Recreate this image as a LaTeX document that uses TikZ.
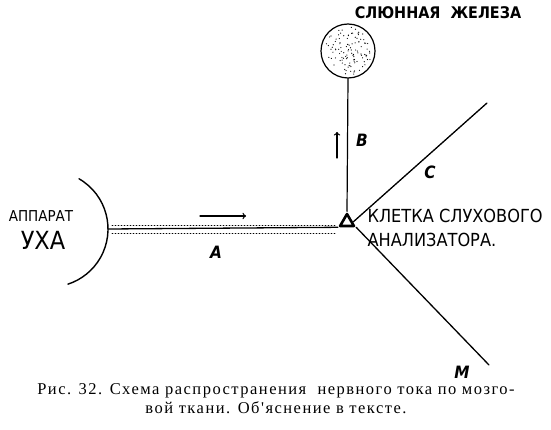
\documentclass[tikz,border=0pt]{standalone}
\usepackage{fontspec}
\setmainfont{Liberation Serif}
\newfontfamily\lettering{DejaVu Sans Condensed}
\newfontfamily\captionfont[LetterSpace=9]{Liberation Serif}
\usetikzlibrary{shapes.geometric}
\begin{document}
\begin{tikzpicture}[x=1pt, y=1pt, line join=round, line cap=round, >=to,
	declare function={r=27; R=58;}]
	\useasboundingbox (0,0) rectangle (551,429);
	\path
	(50,200) coordinate (O)
	(108,200) coordinate (E)
	(487,326) coordinate (C)
	(489,64) coordinate (M)
	;
	\node[draw, line width=1.2pt, circle, minimum size=2*r, inner sep=0] (gland) at (348,378) {};
	\node[draw, line width=2.6pt, regular polygon, regular polygon sides=3, minimum size=16, inner sep=0] (cell) at (347,207) {};
	% ear
	\draw[line width=1.4pt] (O) ++(60:R) arc (60:-72:R);
	% fibres
	\draw[line width=1.3pt] (E)--(cell.corner 2);
	\draw[line width=0.6pt, dash pattern=on 1pt off 2pt] (112,204)--(336,204) (112,196)--(336,196);
	\draw[line width=1.2pt] (cell.north)--(gland.south);
	\draw[line width=1.3pt] (cell.corner 3)--(M);
	\draw[line width=1.3pt] (cell.east)--(C);
	% stippling of the gland
	\pgfmathsetseed{7}
	\foreach \i in {1,...,110}{
	\pgfmathsetmacro\rr{24*sqrt(rnd)}
	\pgfmathsetmacro\tt{360*rnd}
	\fill (gland.center) ++(\tt:\rr) circle (0.6);
}
	% arrows
	\draw[->, line width=1.3pt] (200,213)--(246,213);
	\draw[->, line width=1.3pt] (337,271)--(337,297);
	% letters
	\foreach \p/\t in {{216,177}/A, {362,289}/B, {430,257}/C, {462,57}/M}{
	\node[font=\lettering\fontsize{17}{17}\selectfont\bfseries\itshape] at (\p) {\t};
}
	\node[font=\lettering\fontsize{15}{15}\selectfont] (app) at (41,213) {АППАРАТ};
	\node[font=\lettering\fontsize{25}{25}\selectfont] (ukha) at (43,189) {УХА};
	\node[font=\lettering\bfseries\fontsize{16}{16}\selectfont] (glandlbl) at (438,416) {СЛЮННАЯ\ \ ЖЕЛЕЗА};
	\node[font=\lettering\fontsize{18}{18}\selectfont, anchor=west] (cell1) at (364,213) {КЛЕТКА СЛУХОВОГО};
	\node[font=\lettering\fontsize{18}{18}\selectfont, anchor=west] (cell2) at (364,189) {АНАЛИЗАТОРА.};
	\node[font=\captionfont\fontsize{16.5}{19}\selectfont, align=center] (caption) at (276,30)
	{Рис. 32. Схема распространения \ нервного тока по мозго-\\вой ткани. Об'яснение в тексте.};
\end{tikzpicture}
\end{document}
